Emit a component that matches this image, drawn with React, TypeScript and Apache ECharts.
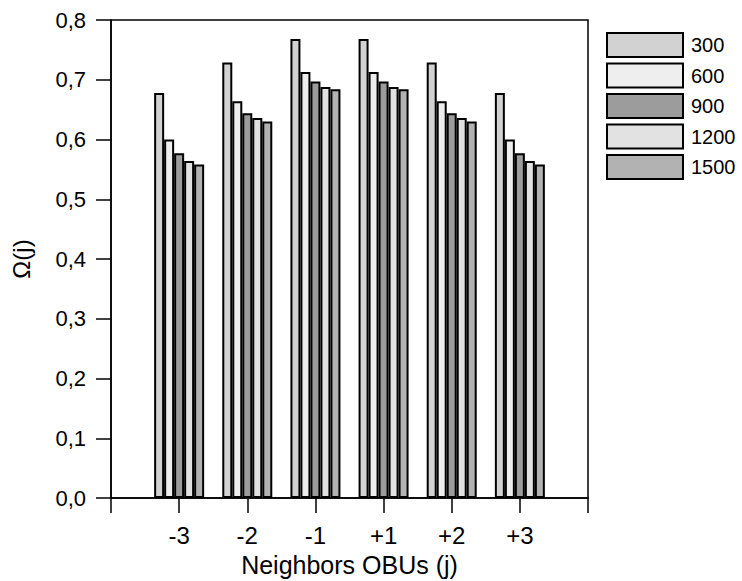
import React, { useEffect, useRef } from "react";
import * as echarts from "echarts";

const categories = ["-3", "-2", "-1", "+1", "+2", "+3"];
const seriesNames = ["300", "600", "900", "1200", "1500"];
const s300 = [0.678, 0.729, 0.768, 0.768, 0.729, 0.678];
const s600 = [0.6, 0.664, 0.713, 0.713, 0.664, 0.6];
const s900 = [0.577, 0.644, 0.697, 0.697, 0.644, 0.577];
const s1200 = [0.564, 0.636, 0.688, 0.688, 0.636, 0.564];
const s1500 = [0.558, 0.63, 0.684, 0.684, 0.63, 0.558];
const seriesValues = [s300, s600, s900, s1200, s1500];
const fills = ["#d2d2d2", "#eeeeee", "#9c9c9c", "#e2e2e2", "#b2b2b2"];

const FONT = "'Liberation Sans', Arial, sans-serif";

export default function App() {
  const ref = useRef<HTMLDivElement>(null);
  useEffect(() => {
    if (!ref.current) return;
    const chart = echarts.init(ref.current, null, { renderer: "svg" });
    chart.setOption({
      animation: false,
      backgroundColor: "#ffffff",
      textStyle: { fontFamily: FONT },
      grid: {
        left: 111,
        top: 20,
        width: 477,
        height: 478,
        containLabel: false,
        outerBoundsMode: "none",
        show: true,
        borderColor: "#000",
        borderWidth: 1.5,
        backgroundColor: "transparent",
      },
      legend: {
        orient: "vertical",
        left: 606,
        top: 32,
        padding: 0,
        itemWidth: 76,
        itemHeight: 24,
        itemGap: 4.5,
        icon: "rect",
        data: seriesNames,
        textStyle: { fontFamily: FONT, fontSize: 20, color: "#000", padding: [0, 0, 0, 3] },
      },
      xAxis: {
        type: "value",
        min: 0,
        max: 7,
        interval: 1,
        name: "Neighbors OBUs (j)",
        nameLocation: "middle",
        nameGap: 54,
        nameTextStyle: { fontFamily: FONT, fontSize: 25, color: "#000" },
        axisLine: { show: true, onZero: true, lineStyle: { color: "#000", width: 1.5 } },
        axisTick: { show: true, inside: false, length: 15, lineStyle: { color: "#000", width: 1.5 } },
        axisLabel: {
          fontFamily: FONT,
          fontSize: 24,
          color: "#000",
          margin: 25,
          formatter: (v: number) => (v >= 1 && v <= categories.length ? categories[v - 1] : ""),
        },
        splitLine: { show: false },
      },
      yAxis: {
        type: "value",
        min: 0,
        max: 0.8,
        interval: 0.1,
        name: "Ω(j)",
        nameLocation: "middle",
        nameGap: 78,
        nameRotate: 90,
        nameTextStyle: { fontFamily: FONT, fontSize: 24, color: "#000" },
        axisLine: { show: true, lineStyle: { color: "#000", width: 1.5 } },
        axisTick: { show: true, inside: false, length: 15, lineStyle: { color: "#000", width: 1.5 } },
        axisLabel: {
          fontFamily: FONT,
          fontSize: 22,
          color: "#000",
          margin: 25,
          formatter: (v: number) => v.toFixed(1).replace(".", ","),
        },
        splitLine: { show: false },
      },
      series: seriesNames.map((name, si) => ({
        name,
        type: "bar",
        barWidth: 10,
        barGap: "0%",
        data: seriesValues[si].map((v, i) => [i + 1, v]),
        itemStyle: { color: fills[si], borderColor: "#000", borderWidth: 2 },
      })),
    });
    return () => chart.dispose();
  }, []);
  return (
    <div
      ref={ref}
      style={{ position: "fixed", left: 0, top: 0, width: 742, height: 581 }}
    />
  );
}
